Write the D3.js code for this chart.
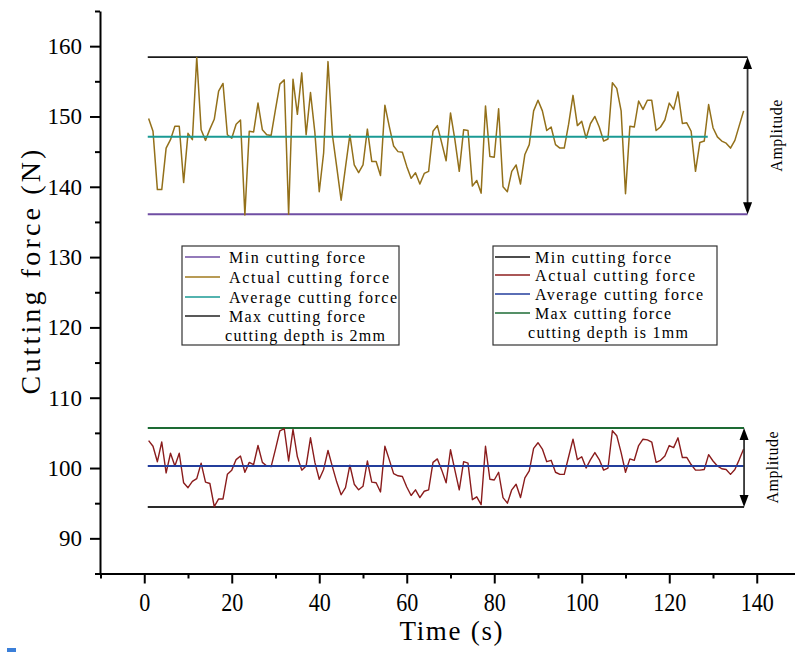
<!DOCTYPE html>
<html>
<head>
<meta charset="utf-8">
<script src="https://cdn.jsdelivr.net/npm/d3@7"></script>
<style>
  html, body { margin: 0; padding: 0; background: #fff; }
  svg { display: block; }
</style>
</head>
<body>
<div id="chart"></div>
<script>
// time axis, one sample per second
const timeSec = d3.range(1, 138);

// actual cutting force, depth 2mm (N)
const force2mm = [
  149.7, 147.9, 139.6, 139.6, 145.5, 146.7, 148.6, 148.6, 140.6, 147.6,
  146.7, 158.4, 148.1, 146.6, 148.2, 149.6, 153.6, 154.7, 147.4, 146.9,
  148.9, 149.5, 136.0, 147.9, 147.8, 151.9, 148.1, 147.4, 147.3, 151.0,
  154.6, 155.2, 136.1, 155.3, 150.3, 156.2, 147.4, 153.4, 147.7, 139.3,
  144.8, 157.8, 147.4, 142.8, 138.1, 142.8, 147.4, 143.1, 142.0, 143.1,
  148.2, 143.6, 143.6, 141.6, 151.6, 148.6, 145.8, 145.0, 144.9, 142.9,
  141.2, 142.0, 140.4, 141.9, 142.2, 147.9, 148.7, 146.2, 143.7, 150.5,
  146.7, 142.2, 148.1, 148.0, 140.1, 140.9, 139.1, 151.5, 144.3, 144.2,
  151.1, 140.0, 139.3, 142.2, 143.1, 140.4, 144.6, 146.0, 150.8, 152.3,
  150.8, 148.0, 148.5, 146.0, 145.5, 145.5, 148.9, 153.0, 148.7, 149.3,
  146.9, 149.0, 150.0, 148.5, 146.5, 146.8, 154.8, 154.0, 150.8, 139.0,
  148.6, 148.5, 152.2, 151.0, 152.3, 152.3, 148.0, 148.5, 149.5, 151.9,
  151.0, 153.5, 149.0, 149.1, 147.9, 142.2, 146.3, 146.5, 151.7, 148.4,
  147.1, 146.5, 146.2, 145.5, 146.6, 148.7, 150.8
];

// actual cutting force, depth 1mm (N)
const force1mm = [
  103.9, 103.1, 100.9, 103.7, 99.3, 102.1, 100.3, 102.1, 97.9, 97.2,
  98.1, 98.5, 100.7, 98.0, 97.8, 94.5, 95.6, 95.6, 99.1, 99.7,
  101.2, 101.7, 99.4, 100.8, 100.5, 103.2, 100.8, 100.3, 100.2, 102.7,
  105.3, 105.6, 101.0, 105.5, 101.6, 99.7, 100.3, 104.3, 100.8, 98.4,
  99.8, 102.5, 100.2, 98.0, 96.2, 97.2, 100.4, 97.7, 96.9, 97.4,
  101.0, 98.0, 97.9, 96.6, 103.1, 101.2, 99.2, 98.9, 98.8, 97.3,
  96.1, 96.9, 95.8, 96.7, 96.9, 100.8, 101.3, 99.7, 97.9, 102.6,
  99.7, 96.9, 100.9, 100.7, 95.5, 95.9, 94.8, 103.1, 98.4, 98.3,
  99.4, 95.8, 95.0, 96.9, 97.7, 95.8, 98.6, 99.6, 102.8, 103.6,
  102.7, 100.9, 101.1, 99.4, 99.1, 99.1, 101.6, 104.1, 101.2, 101.6,
  100.0, 101.2, 102.2, 101.2, 99.7, 100.0, 105.3, 104.6, 102.2, 99.4,
  101.3, 101.1, 103.2, 104.1, 104.0, 103.7, 100.8, 101.1, 101.7, 103.2,
  102.9, 104.3, 101.5, 101.5, 100.5, 99.7, 99.7, 99.8, 101.9, 101.0,
  100.3, 99.9, 99.8, 99.1, 99.8, 101.2, 102.7
];

// max / average / min levels
const levels2mm = [158.45, 147.1, 136.1];
const levels1mm = [105.7, 100.3, 94.45];

// time span of the level lines
const levelStart = 0.8;
const levelEnd2mm = 137.9;
const avgEnd2mm = 128.8;
const levelEnd1mm = 137.1;

const xMajorTicks = d3.range(0, 141, 20);
const xMinorTicks = d3.range(-10, 151, 20);
const yMajorTicks = d3.range(90, 161, 10);
const yMinorTicks = d3.range(85, 166, 10);

const legendLabels = ["Min cutting force", "Actual cutting force", "Average cutting force", "Max cutting force"];
const legendColors2mm = ["#6f4ea3", "#a07a1c", "#1a9a94", "#222222"];
const legendColors1mm = ["#111111", "#8e1f1f", "#233e9c", "#1d6b34"];

const width = 795, height = 652;
const serifFont = "'Liberation Serif', 'DejaVu Serif', serif";

const svg = d3.select("#chart").append("svg")
    .attr("width", width)
    .attr("height", height);

const x = d3.scaleLinear().domain([-10, 150]).range([100.5, 800.5]);
const y = d3.scaleLinear().domain([85, 165]).range([573.5, 11]);

// text set in a fixed pitch, like the source's CJK-font latin glyphs
function monoText(sel, str, size, pitch) {
    return sel.attr("font-family", serifFont)
        .attr("font-size", size)
        .attr("fill", "#000")
        .attr("textLength", str.length * pitch)
        .attr("lengthAdjust", "spacing")
        .text(str);
}

// ---- axes
const yAxis = svg.append("g").attr("transform", "translate(100,0)")
    .call(d3.axisLeft(y).tickValues(yMajorTicks).tickSize(10).tickSizeOuter(0).tickPadding(8));
svg.append("g").attr("transform", "translate(100,0)")
    .call(d3.axisLeft(y).tickValues(yMinorTicks).tickSize(5).tickFormat(""))
    .call(g => g.select(".domain").remove());

const xAxis = svg.append("g").attr("transform", "translate(0,573.5)")
    .call(d3.axisBottom(x).tickValues(xMajorTicks).tickSize(10).tickSizeOuter(0).tickPadding(9));
svg.append("g").attr("transform", "translate(0,573.5)")
    .call(d3.axisBottom(x).tickValues(xMinorTicks).tickSize(5).tickFormat(""))
    .call(g => g.select(".domain").remove());

svg.selectAll(".domain").attr("stroke", "#000").attr("stroke-width", 2);
svg.selectAll(".tick line").attr("stroke", "#000").attr("stroke-width", 2);

yAxis.selectAll("text")
    .attr("font-family", serifFont)
    .attr("font-size", 23)
    .attr("fill", "#000");

xAxis.selectAll("text")
    .attr("font-family", serifFont)
    .attr("font-size", 26)
    .attr("fill", "#000")
    .attr("transform", "scale(0.85,1)");

// axis titles
monoText(svg.append("text")
    .attr("x", 451).attr("y", 640)
    .attr("text-anchor", "middle"), "Time (s)", 27, 12.9);

monoText(svg.append("text")
    .attr("transform", "translate(40,272) rotate(-90)")
    .attr("text-anchor", "middle"), "Cutting force (N)", 28, 14.4);

// ---- level lines
function hline(v, t0, t1, color, w) {
    svg.append("line")
        .attr("x1", x(t0)).attr("x2", x(t1))
        .attr("y1", y(v)).attr("y2", y(v))
        .attr("stroke", color)
        .attr("stroke-width", w);
}

hline(levels2mm[0], levelStart, levelEnd2mm, "#1a1a1a", 1.8);
hline(levels2mm[2], levelStart, levelEnd2mm, legendColors2mm[0], 2);
hline(levels1mm[0], levelStart, levelEnd1mm, legendColors1mm[3], 2);
hline(levels1mm[2], levelStart, levelEnd1mm, "#2a2a2a", 2);

// ---- series
const line = d3.line()
    .x((d, i) => x(timeSec[i]))
    .y(d => y(d));

svg.append("path")
    .datum(force2mm)
    .attr("d", line)
    .attr("fill", "none")
    .attr("stroke", "#93701a")
    .attr("stroke-width", 1.5)
    .attr("stroke-linejoin", "round");

svg.append("path")
    .datum(force1mm)
    .attr("d", line)
    .attr("fill", "none")
    .attr("stroke", "#8a1c1c")
    .attr("stroke-width", 1.4)
    .attr("stroke-linejoin", "round");

hline(levels2mm[1], levelStart, avgEnd2mm, legendColors2mm[2], 2);
hline(levels1mm[1], levelStart, levelEnd1mm, legendColors1mm[2], 2);

// ---- amplitude arrows
function amplitude(t, vTop, vBottom) {
    const ax = x(t), y0 = y(vTop), y1 = y(vBottom);
    svg.append("line")
        .attr("x1", ax).attr("x2", ax)
        .attr("y1", y0 + 6).attr("y2", y1 - 6)
        .attr("stroke", "#333")
        .attr("stroke-width", 1.8);
    svg.append("path")
        .attr("d", `M${ax},${y0}L${ax - 4.5},${y0 + 12}L${ax + 4.5},${y0 + 12}Z`)
        .attr("fill", "#000");
    svg.append("path")
        .attr("d", `M${ax},${y1}L${ax - 4.5},${y1 - 12}L${ax + 4.5},${y1 - 12}Z`)
        .attr("fill", "#000");
    monoText(svg.append("text")
        .attr("transform", `translate(${ax + 34},${(y0 + y1) / 2}) rotate(-90)`)
        .attr("text-anchor", "middle"), "Amplitude", 16, 8);
}
amplitude(levelEnd2mm, levels2mm[0], levels2mm[2]);
amplitude(levelEnd1mm, levels1mm[0], levels1mm[2]);

// ---- legends
function legend(box, rows, lineX, textX, colors, note, noteX, noteY) {
    const g = svg.append("g");
    g.append("rect")
        .attr("x", box[0]).attr("y", box[1])
        .attr("width", box[2]).attr("height", box[3])
        .attr("fill", "#fff")
        .attr("stroke", "#333")
        .attr("stroke-width", 1.2);
    legendLabels.forEach((label, i) => {
        g.append("line")
            .attr("x1", lineX[0]).attr("x2", lineX[1])
            .attr("y1", rows[i]).attr("y2", rows[i])
            .attr("stroke", colors[i])
            .attr("stroke-width", 1.6);
        monoText(g.append("text")
            .attr("x", textX).attr("y", rows[i] + 5.5), label, 16, 8);
    });
    monoText(g.append("text")
        .attr("x", noteX).attr("y", noteY + 5.5), note, 16, 8);
}

legend([182, 246, 217, 99], [257, 277, 297, 316], [185, 220], 229,
    legendColors2mm, "cutting depth is 2mm", 225, 335);
legend([493, 246, 224, 99], [257, 275, 294, 313], [495, 530], 535,
    legendColors1mm, "cutting depth is 1mm", 528, 332);

// small blue mark at bottom left of the source figure
svg.append("rect")
    .attr("x", 7).attr("y", 648)
    .attr("width", 9).attr("height", 4)
    .attr("fill", "#3b7fd9");
</script>
</body>
</html>
